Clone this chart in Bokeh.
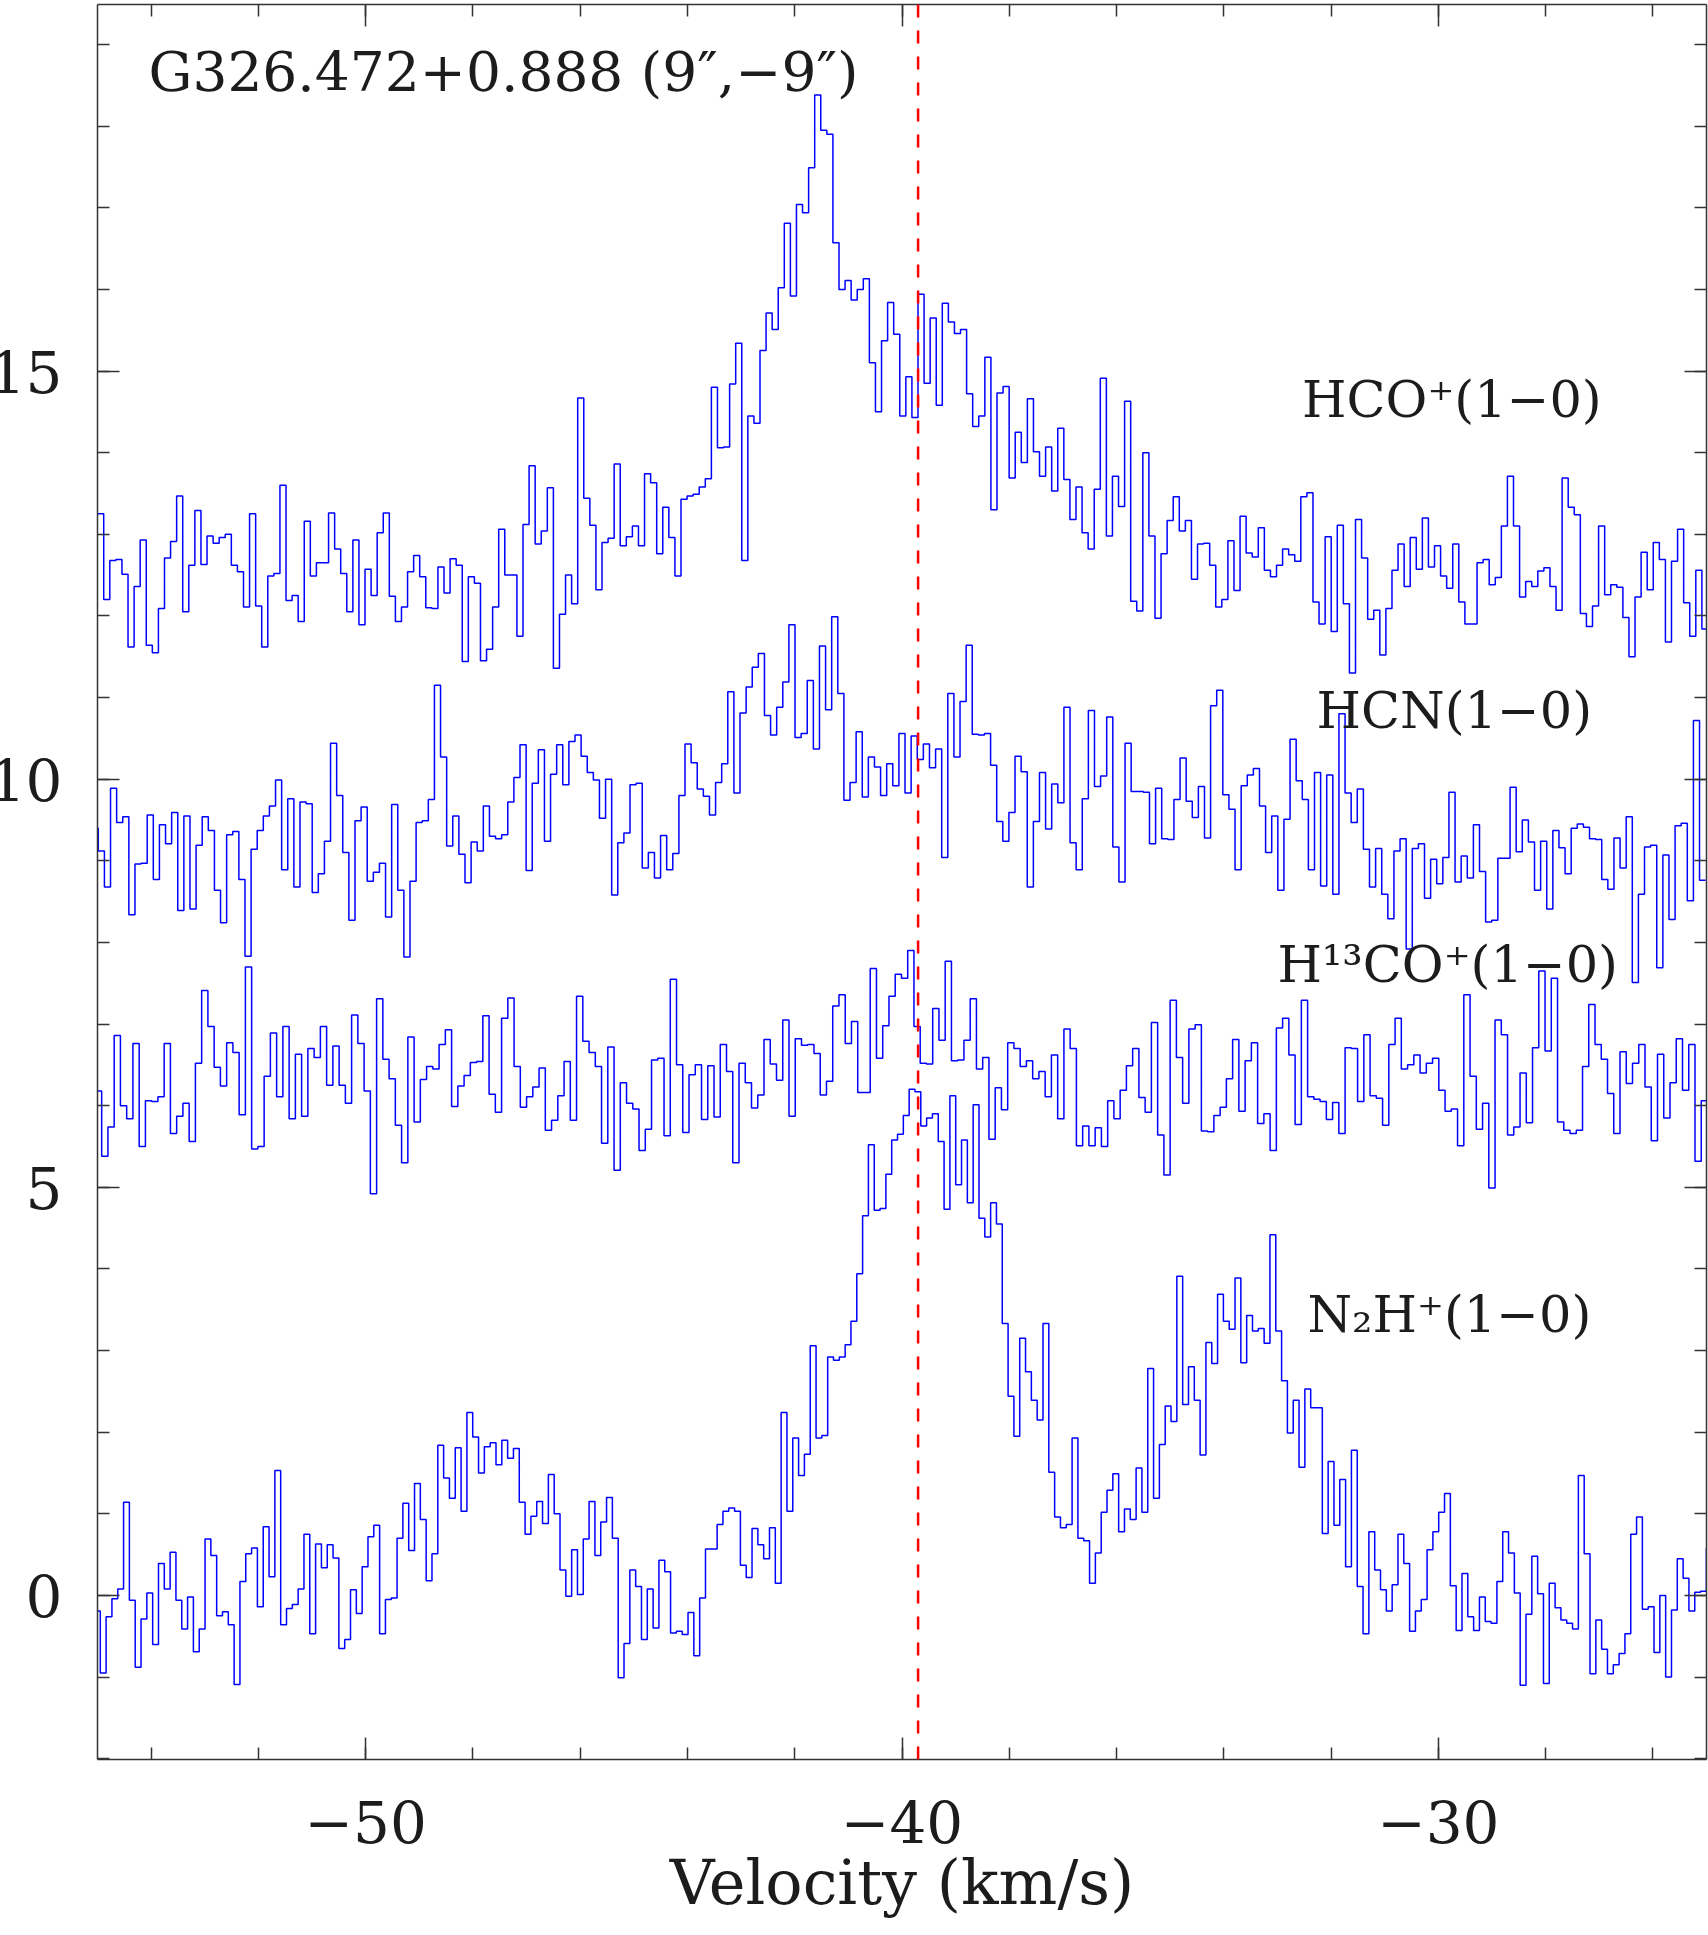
from bokeh.plotting import figure
from bokeh.models import (Span, Label, LinearAxis, SingleIntervalTicker, Range1d,
                          CustomLabelingPolicy)
from bokeh.embed import file_html
from bokeh.resources import INLINE

# ---------------- data (antenna temperature, offset spectra) ----------------
# channel grids: velocity of first channel edge (km/s) and channel width (km/s)
hco_first_edge, hco_dv = -54.884, 0.1133
hcn_first_edge, hcn_dv = -54.985, 0.11395
h13_first_edge, h13_dv = -54.922, 0.1165
n2h_first_edge, n2h_dv = -54.948, 0.1085

hco_values = [
    13.25, 12.20, 12.68, 12.69, 12.51, 11.62, 12.36, 12.93, 11.64, 11.55,
    12.09, 12.71, 12.91, 13.47, 12.05, 12.62, 13.29, 12.63, 12.98, 12.89,
    12.96, 13.00, 12.62, 12.54, 12.11, 13.25, 12.12, 11.62, 12.49, 12.52,
    13.60, 12.19, 12.25, 11.93, 13.16, 12.49, 12.65, 12.65, 13.26, 12.82,
    12.52, 12.05, 12.93, 11.89, 12.57, 12.25, 13.02, 13.26, 12.24, 11.93,
    12.11, 12.54, 12.74, 12.48, 12.10, 12.09, 12.60, 12.28, 12.70, 12.62,
    11.44, 12.48, 12.40, 11.45, 11.59, 12.11, 13.06,
    12.50, 12.50, 11.75, 13.12, 13.84, 12.88, 13.04, 13.57, 11.36, 12.02,
    12.50, 12.15, 14.67, 13.44, 13.11, 12.32, 12.90, 12.95, 13.86, 12.86,
    12.97, 13.10, 12.86, 13.74, 13.63, 12.76, 13.33, 12.96, 12.49, 13.43,
    13.47, 13.49, 13.58, 13.68, 14.80, 14.06, 14.07, 14.84, 15.34, 12.68,
    14.45, 14.36, 15.25, 15.71, 15.51, 16.02, 16.81, 15.92, 17.04, 16.94,
    17.49, 18.38, 17.95, 17.90, 16.57, 16.00, 16.11, 15.87, 16.00, 16.13,
    15.10, 14.50, 15.37, 15.84, 15.45,
    14.45,
    14.93, 14.43, 15.94, 14.85, 15.65, 14.58, 15.83, 15.60, 15.46, 15.51,
    14.72, 14.32, 14.45, 15.17, 13.30, 14.73, 14.81, 13.69, 14.25, 13.88,
    14.66, 14.01, 13.71, 14.07, 13.53, 14.30, 13.67, 13.18, 13.58, 13.02,
    12.82, 13.55, 14.91, 12.98, 13.71, 13.34, 14.63, 12.18, 12.06, 14.00,
    12.98, 11.97, 12.76, 13.17, 13.46, 13.04, 13.17, 12.45, 12.88, 12.89,
    12.62, 12.11, 12.20, 12.92, 12.31, 13.22, 12.77, 12.72, 13.08, 12.56,
    12.48, 12.62, 12.82, 12.75, 12.67,
    13.46,
    13.51, 12.17, 11.90, 12.97, 11.81, 13.11, 12.15, 11.30, 13.18, 12.71,
    11.96, 12.07, 11.52, 12.09, 12.56, 12.88, 12.36, 12.96, 12.57, 13.20,
    12.60, 12.86, 12.49, 12.34, 12.88, 12.17, 11.90, 11.90, 12.65, 12.69,
    12.38, 12.47, 13.10, 13.71, 13.10, 12.23, 12.42, 12.36, 12.55, 12.59,
    12.36, 12.07, 13.69, 13.33, 13.24, 12.03, 11.87, 12.12, 13.10, 12.26,
    12.38, 12.35, 11.98, 11.50, 12.23, 12.78, 12.32, 12.90, 12.69, 11.68,
    12.67, 13.06, 12.16, 11.75, 12.56, 11.84,
]

hcn_values = [
    9.40, 9.12, 8.68, 9.89, 9.47, 9.54, 8.34, 8.96, 8.97, 9.56,
    8.77, 9.44, 9.21, 9.59, 8.39, 9.55, 8.41, 9.19, 9.54, 9.37,
    8.64, 8.24, 9.32, 9.36, 8.77, 7.83, 9.14, 9.37, 9.55, 9.67,
    9.99, 8.89, 9.76, 8.68, 9.72, 9.70, 8.61, 8.84, 9.24, 10.44,
    9.80, 9.10, 8.27, 9.49, 9.66, 8.75, 8.86, 8.97, 8.31, 9.69,
    8.64, 7.82, 8.75, 9.47, 9.49, 9.75, 11.15, 10.27, 9.18, 9.55,
    9.08, 8.73, 9.23, 9.12, 9.67, 9.30, 9.27,
    9.32, 9.72, 10.02, 10.42, 8.88, 9.95, 10.36, 9.24, 10.06, 10.42,
    9.93, 10.46, 10.54, 10.28, 10.08, 9.99, 9.52, 10.00, 8.58, 9.22,
    9.34, 9.93, 9.95, 8.91, 9.10, 8.79, 9.31, 8.89, 9.09, 9.80,
    10.43, 10.20, 9.88, 9.79, 9.56, 9.96, 10.19, 11.07, 9.83, 10.81,
    11.13, 11.37, 11.54, 10.78, 10.54, 10.88, 11.19, 11.89, 10.51, 10.56,
    11.21, 10.37, 11.63, 10.85, 11.99, 11.05, 9.74, 9.96, 10.58, 9.78,
    10.27, 10.15, 9.80, 10.19, 9.92,
    10.56,
    9.83, 10.53, 10.24, 10.43, 10.14, 10.37, 9.04, 11.05, 10.27, 10.95,
    11.64, 10.55, 10.54, 10.56, 10.17, 9.48, 9.24, 9.59, 10.28, 10.09,
    8.68, 9.48, 10.08, 9.39, 9.94, 9.71, 10.88, 9.22, 8.89, 9.76,
    10.84, 9.91, 10.04, 10.76, 9.17, 8.74, 10.44, 9.85, 9.85, 9.84,
    9.21, 9.89, 9.27, 9.26, 9.75, 10.26, 9.73, 9.53, 9.91, 9.28,
    10.90, 11.09, 9.81, 9.63, 8.89, 9.92, 10.05, 10.13, 9.67, 9.10,
    9.55, 8.64, 9.51, 10.49, 9.98,
    9.75, 8.89, 10.08, 8.69, 10.05, 8.59, 10.80, 9.83, 9.47, 9.88,
    9.14, 8.68, 9.15, 8.59, 8.29, 9.12, 9.27, 7.92, 9.15, 9.21,
    8.54, 9.02, 8.72, 9.04, 9.84, 8.74, 9.06, 8.79, 9.44, 8.87,
    8.25, 8.27, 9.03, 9.03, 9.90, 9.11, 9.50, 9.23, 8.64, 9.24,
    8.41, 9.37, 9.16, 8.84, 9.40, 9.45, 9.41, 9.27, 9.26, 8.77,
    8.65, 9.28, 8.91, 9.54, 7.51, 8.59, 9.17, 9.19, 7.69, 9.07,
    8.28, 9.43, 9.46, 8.51, 10.72, 8.76,
]

h13_values = [
    6.18, 5.38, 5.74, 6.86, 6.00, 5.84, 6.76, 5.50, 6.06, 6.05,
    6.11, 6.76, 5.66, 5.87, 6.03, 5.56, 6.52, 7.41, 6.97, 6.47,
    6.24, 6.77, 6.65, 5.89, 7.70, 5.47, 5.50, 6.36, 6.89, 6.11,
    6.97, 5.84, 6.63, 5.87, 6.70, 6.59, 6.97, 6.25, 6.73, 6.25,
    6.03, 7.11, 6.76, 6.18, 4.92, 7.31, 6.57, 6.33, 5.76, 5.30,
    6.84, 5.80, 6.32, 6.48, 6.45, 6.75, 6.93, 5.99, 6.24, 6.37,
    6.53, 6.54, 7.10, 6.14, 5.92,
    7.07, 7.32, 6.48, 5.98, 6.11, 6.23, 6.46, 5.70, 5.82, 6.12,
    6.54, 5.82, 7.34, 6.79, 6.65, 6.48, 5.54, 6.72, 5.21, 6.28,
    6.03, 5.96, 5.45, 5.71, 6.56, 6.58, 5.63, 7.55, 6.50, 5.67,
    6.38, 6.50, 5.83, 6.49, 5.86, 6.75, 6.42, 5.30, 6.52, 6.28,
    5.97, 6.13, 6.81, 6.51, 6.31, 7.05, 5.87, 6.82, 6.74, 6.75,
    6.64, 6.13, 6.30, 7.22, 7.36, 6.76, 7.03, 6.16, 6.16, 7.68,
    6.58, 6.98, 7.34, 7.61,
    7.56, 7.90, 6.97, 6.52, 6.51, 7.19, 6.80, 7.77, 6.55, 6.56,
    6.80, 7.31, 6.45, 6.59, 5.59, 6.22, 5.95, 6.77, 6.70, 6.48,
    6.55, 6.33, 6.42, 6.11, 6.62, 5.84, 6.94, 6.70, 5.51, 5.75,
    5.51, 5.73, 5.50, 6.06, 5.84, 6.19, 6.49, 6.70, 6.10, 5.92,
    7.02, 5.64, 5.15, 7.29, 6.59, 6.03, 6.94, 6.99, 5.69, 5.68,
    5.88, 5.98, 6.33, 6.81, 5.93, 6.55, 6.77, 5.78, 5.90, 5.45,
    6.95, 7.07, 6.62, 5.77,
    7.29,
    6.11, 6.08, 6.05, 5.83, 6.04, 5.66, 6.71, 6.70, 6.05, 6.87,
    6.12, 6.09, 5.76, 6.75, 7.07, 6.45, 6.50, 6.62, 6.40, 6.52,
    6.58, 6.19, 5.93, 5.96, 5.51, 7.36, 6.36, 5.71, 6.03, 4.99,
    7.05, 6.87, 5.64, 5.74, 6.40, 5.79, 6.71, 7.65, 6.67, 7.56,
    5.80, 5.70, 5.66, 5.70, 6.48, 7.24, 6.75, 6.57, 6.15, 5.66,
    6.66, 6.27, 6.52, 6.75, 6.23, 5.57, 6.63, 5.85, 6.28, 6.82,
    6.19, 6.75, 5.32, 6.06,
]

n2h_values = [
    -0.19, -0.95, -0.26, -0.04, 0.08, 1.14, -0.06, -0.88, -0.29, 0.03,
    -0.60, 0.39, 0.08, 0.53, -0.06, -0.41, -0.02, -0.69, -0.41, 0.69,
    0.49, -0.25, -0.20, -0.36, -1.09, 0.17, 0.51, 0.58, -0.14, 0.84,
    0.23, 1.53, -0.36, -0.16, -0.11, 0.08, 0.75, -0.47, 0.63, 0.34,
    0.62, 0.46, -0.65, -0.54, 0.07, -0.22, 0.35, 0.72, 0.86, -0.47,
    -0.05, -0.03, 0.70, 1.13, 0.55, 1.37, 0.93, 0.18, 0.51, 1.84,
    1.44, 1.19, 1.81, 1.03, 2.24, 1.94, 1.50, 1.82, 1.87, 1.60,
    1.90, 1.68, 1.80, 1.14, 0.75, 0.97, 1.15, 0.88, 1.48, 1.00,
    0.31, -0.01, 0.56, 0.01, 0.69, 1.15, 0.49, 0.90, 1.20, 0.70,
    -1.01, -0.59, 0.31, 0.11, -0.54, 0.08, -0.40, 0.43, 0.29, -0.46,
    -0.44, -0.48, -0.21, -0.74, -0.03, 0.57, 0.57, 0.87, 1.03, 1.07,
    1.03, 0.37, 0.22, 0.82, 0.62, 0.45, 0.83, 0.15, 2.24, 1.03,
    1.93, 1.47, 1.73, 3.06, 1.93, 1.96, 2.92, 2.88, 2.92, 3.07,
    3.36, 3.94, 4.65, 5.52, 4.72, 4.74, 5.16, 5.58,
    5.65,
    5.88, 6.20, 6.17, 5.75, 5.85, 5.90, 5.56, 4.73, 6.12, 5.03,
    5.58, 4.81, 6.01, 4.62, 4.39, 4.81, 4.55, 3.33, 2.44, 1.95,
    3.15, 2.74, 2.39, 2.15, 3.33, 1.51, 0.96, 0.83, 0.87, 1.93,
    0.70, 0.67, 0.15, 0.52, 1.02, 1.29, 1.49, 0.78, 1.06, 0.93,
    1.56, 1.02, 2.78, 1.19, 1.85, 2.32, 2.13, 3.91, 2.34, 2.80,
    2.39, 1.72, 3.10, 2.84, 3.69, 3.36, 3.26, 3.89, 2.85, 3.43,
    3.24, 3.27, 3.09, 4.42, 3.24, 2.63, 1.99, 2.39,
    1.57,
    2.53, 2.30, 2.30, 0.76, 1.64, 0.86, 1.42, 0.35, 1.78, 0.11,
    -0.47, 0.78, 0.31, 0.07, -0.19, 0.13, 0.75, 0.39, -0.44, -0.19,
    -0.05, 0.56, 0.78, 1.02, 1.25, 0.12, -0.43, 0.27, -0.26, -0.43,
    -0.02, -0.32, -0.34, 0.17, 0.78, 0.52, 0.03, -1.10, -0.23, 0.48,
    0.02, -1.08, 0.15, -0.15, -0.30, -0.34, -0.41, 1.47, 0.51, -0.96,
    -0.30, -0.66, -0.96, -0.85, -0.71, -0.47, 0.75, 0.96, -0.17, -0.14,
    -0.70, 0.00, -1.00, -0.18, 0.45, 0.21, -0.19, 0.04, 0.05, 0.58,
]

v_lsr = -39.7
x_ticks = [-50, -40, -30]
x_tick_labels = ["\u221250", "\u221240", "\u221230"]
x_title = "Velocity (km/s)"
title_text = "G326.472+0.888 (9\u2033,\u22129\u2033)"
line_names = ["HCO\u207a(1\u22120)", "HCN(1\u22120)", "H\u00b9\u00b3CO\u207a(1\u22120)", "N\u2082H\u207a(1\u22120)"]

# ---------------- figure ----------------
FONT = "DejaVu Serif"
AX = "#333333"
TXT = "#1c1c1c"

p = figure(
    frame_width=1609, frame_height=1755,
    x_range=Range1d(-55, -25), y_range=Range1d(-2.01, 19.49),
    output_backend="svg", toolbar_location=None,
    min_border_left=130, min_border_right=2, min_border_top=0, min_border_bottom=178,
    x_axis_type=None, y_axis_type=None,
)
p.styles = {"margin-left": "-33px", "margin-top": "0px"}
p.outline_line_color = None
p.xgrid.visible = False
p.ygrid.visible = False
p.background_fill_color = "white"
p.border_fill_color = "white"

HIDE_ALL = "for (const i of Array.from(indices)) { indices.unset(i) }\nreturn indices"


def style_axis(ax, show_labels):
    ax.axis_line_color = AX
    ax.axis_line_width = 1.5
    ax.major_tick_line_color = AX
    ax.minor_tick_line_color = AX
    ax.major_tick_line_width = 1.5
    ax.minor_tick_line_width = 1.5
    ax.major_tick_in = 22
    ax.major_tick_out = 0
    ax.minor_tick_in = 12
    ax.minor_tick_out = 0
    ax.major_label_text_font = FONT
    ax.major_label_text_color = TXT
    ax.major_label_text_font_style = "normal"
    if not show_labels:
        ax.major_label_text_font_size = "1px"
        ax.major_label_standoff = 0
        ax.major_label_policy = CustomLabelingPolicy(code=HIDE_ALL)


bottom = LinearAxis(ticker=SingleIntervalTicker(interval=10, num_minor_ticks=5))
style_axis(bottom, True)
bottom.major_label_text_font_size = "58px"
bottom.major_label_standoff = 40
bottom.major_label_overrides = {t: s for t, s in zip(x_ticks, x_tick_labels)}
bottom.axis_label = x_title
bottom.axis_label_text_font = FONT
bottom.axis_label_text_font_size = "62px"
bottom.axis_label_text_font_style = "normal"
bottom.axis_label_text_color = TXT
bottom.axis_label_standoff = 0
p.add_layout(bottom, "below")

top = LinearAxis(ticker=SingleIntervalTicker(interval=10, num_minor_ticks=5))
style_axis(top, False)
p.add_layout(top, "above")

left = LinearAxis(ticker=SingleIntervalTicker(interval=5, num_minor_ticks=5))
style_axis(left, True)
left.major_label_text_font_size = "58px"
left.major_label_standoff = 35
p.add_layout(left, "left")

right = LinearAxis(ticker=SingleIntervalTicker(interval=5, num_minor_ticks=5))
style_axis(right, False)
p.add_layout(right, "right")


def edges(first_edge, dv, n):
    return [first_edge + (i - 1) * dv for i in range(n + 1)]


for vals, fe, dv in [
    (hco_values, hco_first_edge, hco_dv),
    (hcn_values, hcn_first_edge, hcn_dv),
    (h13_values, h13_first_edge, h13_dv),
    (n2h_values, n2h_first_edge, n2h_dv),
]:
    p.step(edges(fe, dv, len(vals)), list(vals) + [vals[-1]], mode="after",
           line_color="#0000ff", line_width=1.5)

p.add_layout(Span(location=v_lsr, dimension="height", line_color="#ff0000",
                  line_width=2.5, line_dash="13 13"))

# title and line labels (positions in data coordinates)
p.add_layout(Label(x=-54.05, y=18.66, text=title_text, text_font=FONT,
                   text_font_size="55px", text_color=TXT, text_baseline="alphabetic"))
label_pos = [(-32.54, 14.65), (-32.27, 10.84), (-33.00, 7.73), (-32.44, 3.44)]
for name, (lx, ly) in zip(line_names, label_pos):
    p.add_layout(Label(x=lx, y=ly, text=name, text_font=FONT, text_font_size="51px",
                       text_color=TXT, text_baseline="alphabetic"))

open("out.html", "w").write(file_html(p, INLINE))
